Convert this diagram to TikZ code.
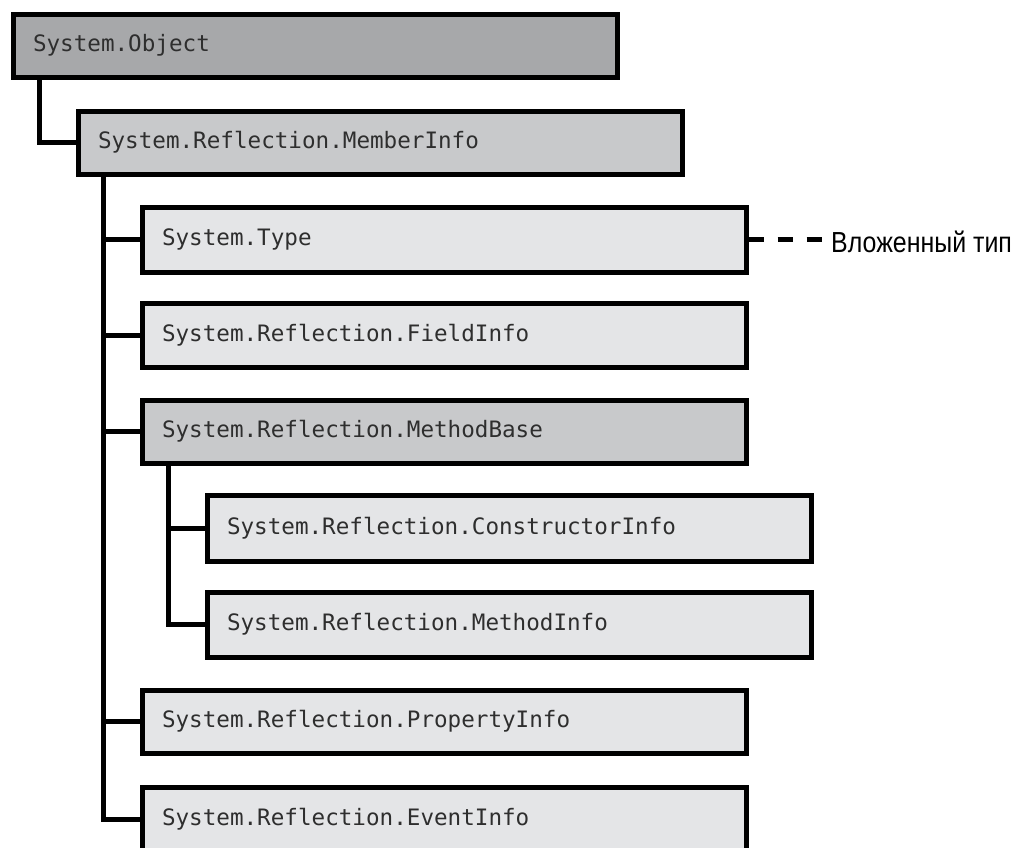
\documentclass[tikz,border=0pt]{standalone}
\usepackage{fontspec}
\newfontfamily\monof{DejaVu Sans Mono}
\newfontfamily\labf[FakeStretch=0.86]{Liberation Sans}
\definecolor{darkfill}{HTML}{A7A8AA}
\definecolor{midfill}{HTML}{C8C9CB}
\definecolor{lightfill}{HTML}{E4E5E7}
\tikzset{
  box/.style={draw=black, line width=5pt, anchor=north west, minimum width=604pt,
    minimum height=63pt, inner xsep=20pt, inner ysep=0pt, text width=564pt, align=left,
    font=\monof\fontsize{22.6pt}{26pt}\selectfont, text=black!82},
  conn/.style={line width=5pt, draw=black},
  dashconn/.style={line width=5pt, draw=black, dash pattern=on 15pt off 14pt}
}
\begin{document}
\begin{tikzpicture}[x=1pt,y=-1pt]
\useasboundingbox (0,0) rectangle (1019,847);
\node[box, fill=darkfill] (obj) at (10.5,11.5) {System.Object};
\node[box, fill=midfill] (mi) at (75.5,108.5) {System.Reflection.MemberInfo};
\node[box, fill=lightfill, minimum height=65pt] (type) at (139.5,204.5) {System.Type};
\node[box, fill=lightfill, minimum height=64pt] (fi) at (139.5,300.5) {System.Reflection.FieldInfo};
\node[box, fill=midfill] (mb) at (139.5,397.5) {System.Reflection.MethodBase};
\node[box, fill=lightfill, minimum height=66pt] (ci) at (204.5,492.5) {System.Reflection.ConstructorInfo};
\node[box, fill=lightfill, minimum height=65pt] (mth) at (204.5,589.5) {System.Reflection.MethodInfo};
\node[box, fill=lightfill] (pi) at (139.5,687.5) {System.Reflection.PropertyInfo};
\node[box, fill=lightfill, minimum height=64pt] (ev) at (139.5,784.5) {System.Reflection.EventInfo};
\node[anchor=west, inner sep=0pt, font=\labf\fontsize{29pt}{32pt}\selectfont] (lbl) at (831,242) {Вложенный тип};
% connectors
\coordinate (oTrunk) at ([xshift=28.5pt]obj.south west);
\draw[conn] (oTrunk) |- (mi.west);
\coordinate (mTrunk) at ([xshift=27.5pt]mi.south west);
\draw[conn] (mTrunk) |- (type.west);
\draw[conn] (mTrunk) |- (fi.west);
\draw[conn] (mTrunk) |- (mb.west);
\draw[conn] (mTrunk) |- (pi.west);
\draw[conn] (mTrunk) |- (ev.west);
\coordinate (bTrunk) at ([xshift=28.5pt]mb.south west);
\draw[conn] (bTrunk) |- (ci.west);
\draw[conn] (bTrunk) |- (mth.west);
\draw[dashconn] (type.east) -- ([xshift=-6pt]lbl.west |- type.east);
\end{tikzpicture}
\end{document}
